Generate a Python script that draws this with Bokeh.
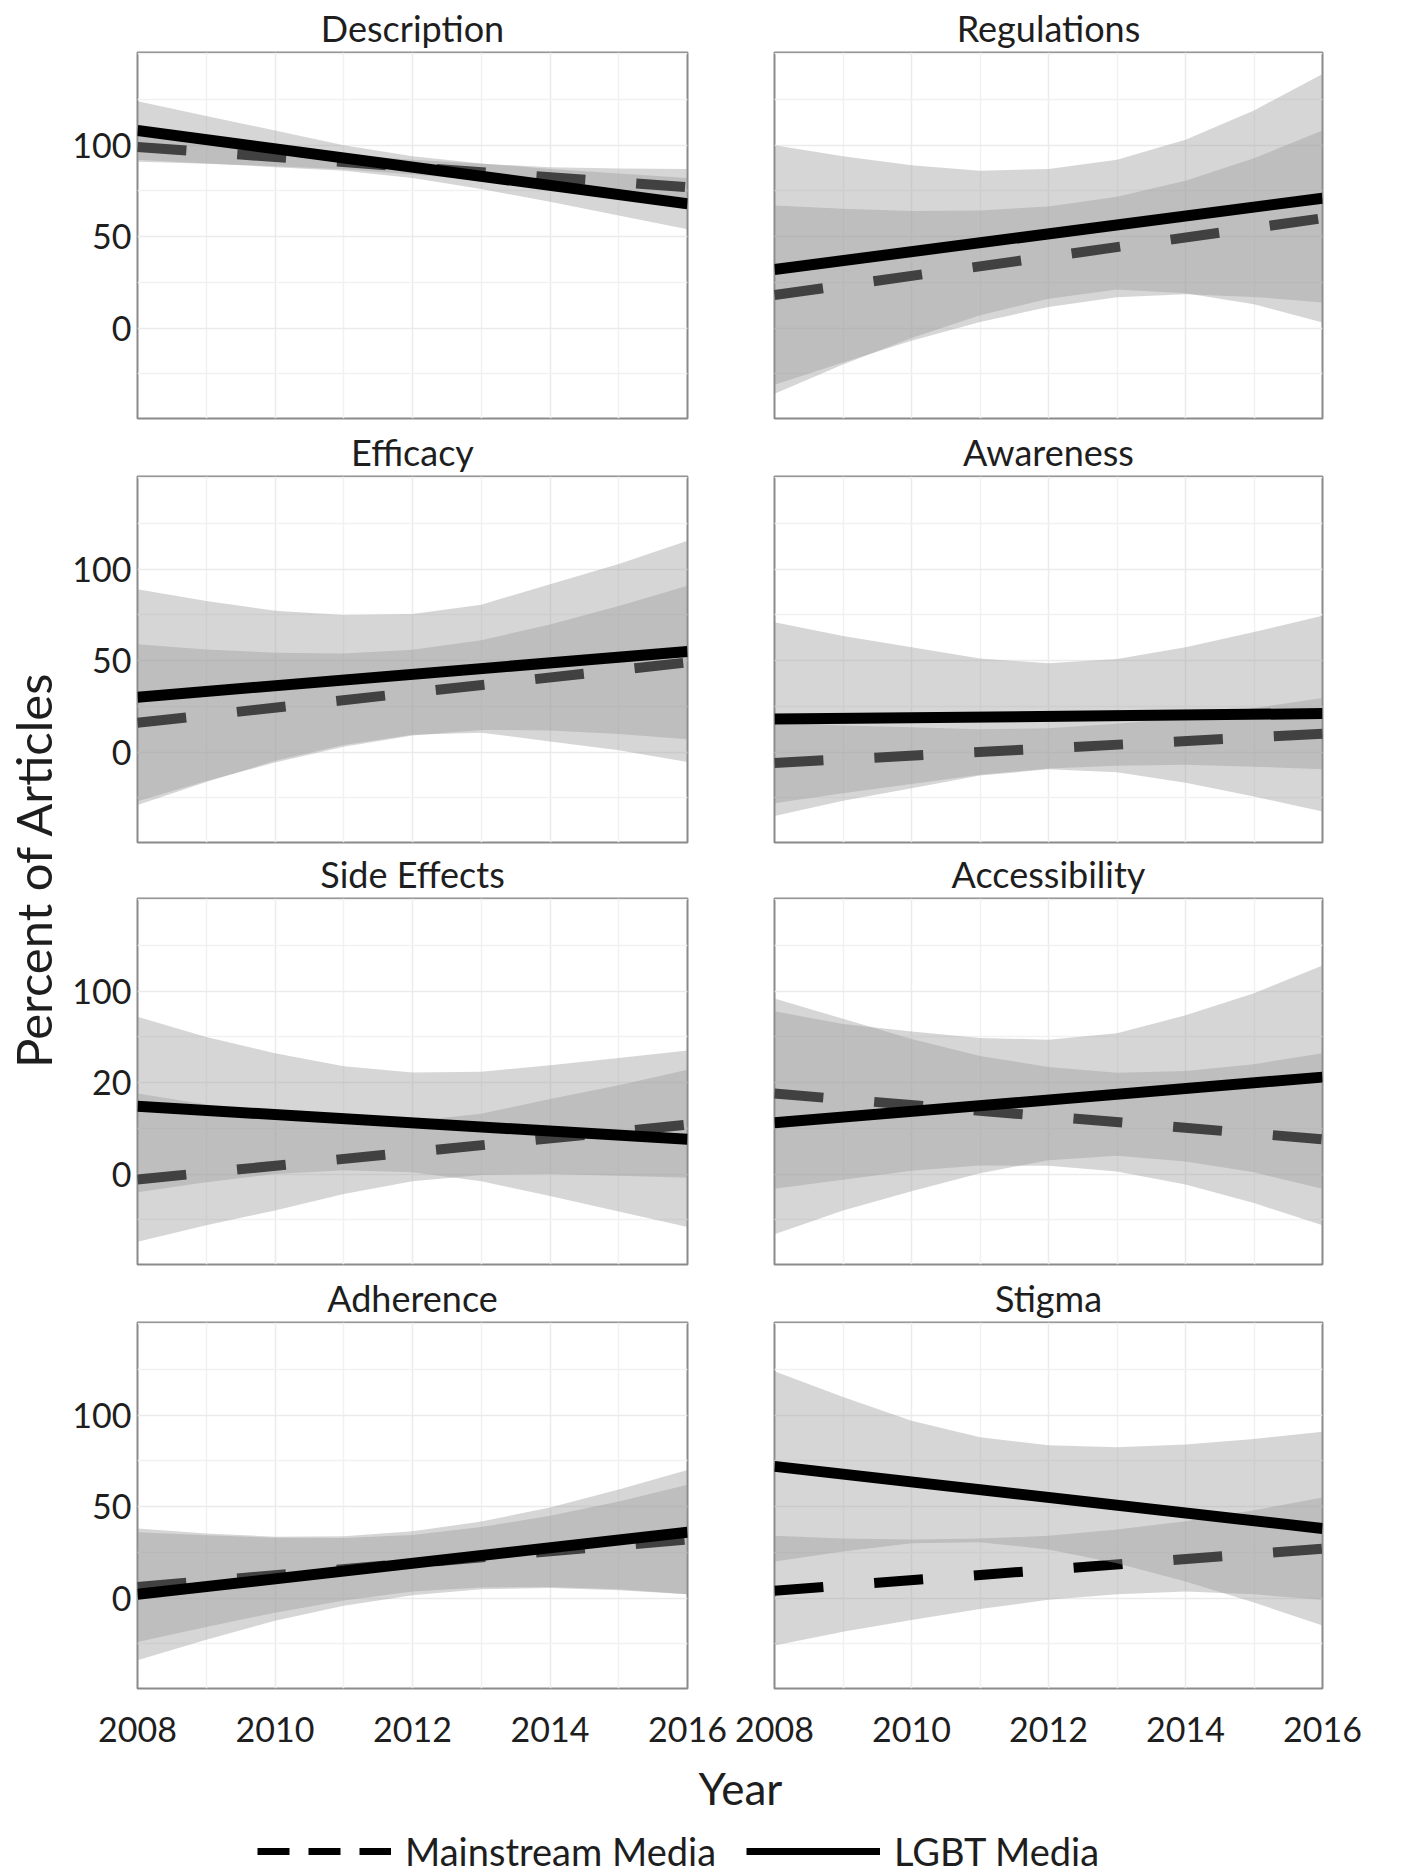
from math import pi
from bokeh.plotting import figure
from bokeh.layouts import row, column, gridplot
from bokeh.models import FixedTicker, Label, Legend, LegendItem, Range1d
from bokeh.embed import file_html
from bokeh.resources import INLINE

# ---------------- data ----------------
panels = ["Description", "Regulations", "Efficacy", "Awareness",
          "Side Effects", "Accessibility", "Adherence", "Stigma"]

band_years = [2008, 2009, 2010, 2011, 2012, 2013, 2014, 2015, 2016]
line_years = [2008, 2016]

# fitted lines (value at 2008, value at 2016)
mainstream_line = {
    "Description": [99, 77], "Regulations": [18, 60], "Efficacy": [16, 49],
    "Awareness": [-6, 10], "Side Effects": [-3, 27], "Accessibility": [44, 19],
    "Adherence": [6, 32], "Stigma": [4, 27],
}
lgbt_line = {
    "Description": [108, 68], "Regulations": [32, 71], "Efficacy": [30, 55],
    "Awareness": [18, 21], "Side Effects": [37, 19], "Accessibility": [28, 53],
    "Adherence": [2, 36], "Stigma": [72, 38],
}

# confidence bands at band_years
mainstream_low = {
    "Description": [91, 89.8, 88.5, 86.8, 84, 80.8, 77, 72.3, 67],
    "Regulations": [-31, -18.8, -7, 3.3, 11.5, 16.8, 18.5, 17, 14],
    "Efficacy": [-27, -15.9, -5.8, 2.9, 9, 12.1, 11.8, 9.9, 7],
    "Awareness": [-28, -22.5, -17.5, -12.5, -9, -7.5, -7, -8, -9.5],
    "Side Effects": [-37, -28, -20, -11, -4, -0.5, 0, -1, -2],
    "Accessibility": [-8, -3.1, 1.8, 4.6, 4.5, 1.4, -5.8, -15.9, -28],
    "Adherence": [-24, -15.8, -8, -1.3, 3.5, 5.8, 6, 4.8, 2],
    "Stigma": [-26, -18.5, -12, -6, -1, 2, 3.5, 2, -1],
}
mainstream_high = {
    "Description": [107, 102.8, 98.5, 94.8, 92, 89.8, 88, 87.3, 87],
    "Regulations": [67, 65.3, 64, 64.3, 66.5, 71.8, 80.5, 92.8, 108],
    "Efficacy": [59, 56.1, 54.3, 53.9, 56, 61.1, 69.8, 79.9, 91],
    "Awareness": [16, 14.5, 13.5, 12.5, 13, 15.5, 19, 24, 29.5],
    "Side Effects": [44, 38, 33, 30, 29, 33, 41, 48.5, 57],
    "Accessibility": [96, 84.9, 73.8, 64.6, 58.5, 55.4, 56.3, 60.1, 66],
    "Adherence": [36, 34.3, 33, 32.8, 34.5, 38.8, 45, 52.8, 62],
    "Stigma": [34, 32.5, 32, 32.5, 34, 37.5, 42, 48, 55],
}
lgbt_low = {
    "Description": [92, 90, 88, 86, 82, 76, 69, 61.5, 54],
    "Regulations": [-36, -20, -5.5, 7, 16, 21, 19, 13, 3],
    "Efficacy": [-29, -16.4, -4.8, 3.9, 9.5, 10.6, 5.8, 0.9, -5.5],
    "Awareness": [-35, -26.6, -19.8, -12.9, -9.5, -11.1, -16.8, -24.4, -32.5],
    "Side Effects": [-10, -4.5, 0, 2, 1, -4, -12, -20.5, -29],
    "Accessibility": [-33, -20, -9.5, 0.4, 7.5, 10, 6.8, 0.9, -8],
    "Adherence": [-34, -22.8, -12.5, -4.3, 1.5, 4.8, 5.5, 4.3, 2],
    "Stigma": [20, 25.5, 30, 30.5, 26.5, 19, 9, -2.5, -15],
}
lgbt_high = {
    "Description": [124, 116, 108, 100, 94, 90, 87, 84.5, 82],
    "Regulations": [100, 94, 89, 86, 87, 92, 103, 119, 139],
    "Efficacy": [89, 82.6, 77.3, 74.9, 75.5, 80.6, 91.8, 102.9, 115.5],
    "Awareness": [71, 63.4, 57.3, 51.1, 48.5, 50.9, 57.3, 65.6, 74.5],
    "Side Effects": [86, 75, 66, 59, 55.5, 56, 59.5, 63.5, 67.5],
    "Accessibility": [89, 82, 78, 74.4, 73.5, 77, 86.8, 98.9, 114],
    "Adherence": [38, 35.3, 33.5, 33.8, 36.5, 41.8, 49.5, 59.3, 70],
    "Stigma": [124, 110, 97, 88, 83.5, 82.5, 84, 87, 91],
}

x_ticks = [2008, 2010, 2012, 2014, 2016]
x_tick_labels = ["2008", "2010", "2012", "2014", "2016"]
x_minor = [2009, 2011, 2013, 2015]
y_ticks = [0, 50, 100]
y_tick_labels = {"default": ["0", "50", "100"], "Side Effects": ["0", "20", "100"]}
y_minor = [-25, 25, 75, 125, 150]

series_names = ["Mainstream Media", "LGBT Media"]

# ---------------- style ----------------
FONT = "Lato"
TXT = "#1e1e1e"
FILL = "#9c9c9c"
ALPHA = 0.415
X0, X1 = 2008, 2016
Y0, Y1 = -49.5, 150.7

col_w = [662, 665]
col_left = [69, 44]
col_right = [43, 73]
FRAME_H = 368
row_top = [50, 50, 50, 50]
row_bot = [6, 4, 6, 70]
row_h = [t + FRAME_H + b for t, b in zip(row_top, row_bot)]   # 424, 422, 424, 488


def make_panel(name, ci, ri):
    p = figure(width=col_w[ci], height=row_h[ri],
               x_range=Range1d(X0, X1), y_range=Range1d(Y0, Y1),
               output_backend="svg", toolbar_location=None, title=name,
               min_border_left=col_left[ci], min_border_right=col_right[ci],
               min_border_top=row_top[ri], min_border_bottom=row_bot[ri])
    p.background_fill_color = "white"
    p.border_fill_color = "white"
    p.outline_line_color = "#8a8a8a"
    p.outline_line_width = 2

    p.title.align = "center"
    p.title.text_font = FONT
    p.title.text_font_size = "36px"
    p.title.text_font_style = "normal"
    p.title.text_color = TXT
    p.title.standoff = 6

    xt = FixedTicker(ticks=x_ticks, minor_ticks=x_minor)
    yt = FixedTicker(ticks=y_ticks, minor_ticks=y_minor)
    p.xaxis.ticker = xt
    p.yaxis.ticker = yt
    p.xgrid.ticker = xt
    p.ygrid.ticker = yt
    for g in (p.xgrid, p.ygrid):
        g.grid_line_color = "#ebebeb"
        g.grid_line_width = 1.5
        g.minor_grid_line_color = "#f1f1f1"
        g.minor_grid_line_width = 1.5

    for ax in (p.xaxis, p.yaxis):
        ax.axis_line_color = None
        ax.major_tick_line_color = None
        ax.minor_tick_line_color = None
        ax.major_label_text_font = FONT
        ax.major_label_text_font_size = "34px"
        ax.major_label_text_color = TXT

    labels = y_tick_labels.get(name, y_tick_labels["default"])
    p.yaxis.major_label_overrides = {t: l for t, l in zip(y_ticks, labels)}
    p.yaxis.major_label_standoff = 0
    p.xaxis.major_label_overrides = {t: l for t, l in zip(x_ticks, x_tick_labels)}
    p.xaxis.major_label_standoff = 22
    if ci == 1:
        p.yaxis.visible = False
    if ri < 3:
        p.xaxis.visible = False

    # mainstream band + line, then LGBT band over it + line
    p.varea(x=band_years, y1=mainstream_low[name], y2=mainstream_high[name],
            fill_color=FILL, fill_alpha=ALPHA)
    p.line(x=line_years, y=mainstream_line[name], line_color="black",
           line_width=10, line_dash="49 51")
    p.varea(x=band_years, y1=lgbt_low[name], y2=lgbt_high[name],
            fill_color=FILL, fill_alpha=ALPHA)
    p.line(x=line_years, y=lgbt_line[name], line_color="black", line_width=11)
    return p


grid_rows = []
for ri in range(4):
    grid_rows.append([make_panel(panels[2 * ri + ci], ci, ri) for ci in range(2)])
grid = gridplot(grid_rows, toolbar_location=None)

total_h = sum(row_h)  # 1758

# y-axis title figure (page x 0..68)
ylab = figure(width=68, height=total_h, x_range=Range1d(0, 68),
              y_range=Range1d(total_h, 0), output_backend="svg",
              toolbar_location=None, min_border=0)
ylab.axis.visible = False
ylab.grid.visible = False
ylab.outline_line_color = None
ylab.add_layout(Label(x=32, y=869, text="Percent of Articles", angle=pi / 2,
                      text_align="center", text_baseline="middle",
                      text_font=FONT, text_font_size="49px", text_color=TXT))

# bottom: x title + legend (page y 1758..1874)
BOT_H = 1874 - total_h
bottom = figure(width=1403, height=BOT_H, x_range=Range1d(0, 1403),
                y_range=Range1d(BOT_H, 0), output_backend="svg",
                toolbar_location=None, min_border=0)
bottom.axis.visible = False
bottom.grid.visible = False
bottom.outline_line_color = None
bottom.add_layout(Label(x=740, y=29, text="Year", text_align="center",
                        text_baseline="middle", text_font=FONT,
                        text_font_size="44px", text_color=TXT))
# legend-only renderers (their data lie outside this strip's range)
r_main = bottom.line(x=line_years, y=mainstream_line["Stigma"], line_color="black",
                     line_width=7, line_dash="32 19")
r_lgbt = bottom.line(x=line_years, y=lgbt_line["Stigma"], line_color="black",
                     line_width=7)
legend = Legend(items=[LegendItem(label=series_names[0], renderers=[r_main]),
                       LegendItem(label=series_names[1], renderers=[r_lgbt])],
                orientation="horizontal", location=(257, 0),
                glyph_width=134, glyph_height=30, label_standoff=14, spacing=30,
                padding=0, margin=0, border_line_color=None,
                background_fill_alpha=0,
                label_text_font=FONT, label_text_font_size="38px",
                label_text_color=TXT)
bottom.add_layout(legend)

layout = column(row(ylab, grid), bottom)
open("out.html", "w").write(file_html(layout, INLINE))
